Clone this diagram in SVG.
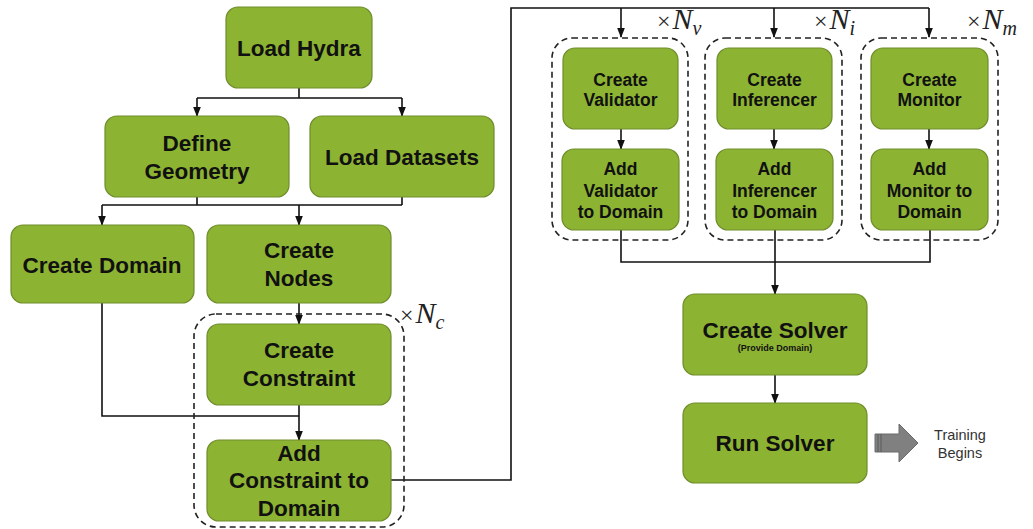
<svg xmlns="http://www.w3.org/2000/svg" width="1033" height="529" viewBox="0 0 1033 529">
<style>
.box{fill:#8db333;stroke:#6e8d2b;stroke-width:1.2}
.t{font-family:"Liberation Sans",Arial,sans-serif;font-weight:bold;fill:#111;text-anchor:middle}
.b{font-size:22.5px}
.s{font-size:17.5px}
.grp{fill:none;stroke:#222;stroke-width:1.6;stroke-dasharray:6 4}
.c{fill:none;stroke:#111;stroke-width:1.6}
.m{font-family:"Liberation Serif","Times New Roman",serif;fill:#222;font-size:24px}
.n{font-style:italic;font-size:30px}
.sub{font-style:italic;font-size:20px}
</style>
<defs>
<marker id="ah" markerWidth="10" markerHeight="10" refX="9" refY="5" orient="auto" markerUnits="userSpaceOnUse">
<path d="M0,1.2 L10,5 L0,8.8 Z" fill="#111"/>
</marker>
</defs>
<rect width="1033" height="529" fill="#fff"/>

<g id="connectors">
<path class="c" d="M299,88 V98 M197,98 H402"/>
<path class="c" d="M197,98 V116" marker-end="url(#ah)"/>
<path class="c" d="M402,98 V116" marker-end="url(#ah)"/>
<path class="c" d="M197,197 V205 M402,197 V205 M102,205 H402"/>
<path class="c" d="M102,205 V225" marker-end="url(#ah)"/>
<path class="c" d="M299,205 V225" marker-end="url(#ah)"/>
<path class="c" d="M299,303 V324" marker-end="url(#ah)"/>
<path class="c" d="M102,303 V416 H299"/>
<path class="c" d="M299,405 V440" marker-end="url(#ah)"/>
<path class="c" d="M391,480 H511 V8 H929"/>
<path class="c" d="M621,8 V37" marker-end="url(#ah)"/>
<path class="c" d="M774,8 V37" marker-end="url(#ah)"/>
<path class="c" d="M929,8 V37" marker-end="url(#ah)"/>
<path class="c" d="M621,129 V149" marker-end="url(#ah)"/>
<path class="c" d="M774,129 V149" marker-end="url(#ah)"/>
<path class="c" d="M929,129 V149" marker-end="url(#ah)"/>
<path class="c" d="M621,230 V262 H930 V230"/>
<path class="c" d="M775,230 V294" marker-end="url(#ah)"/>
<path class="c" d="M775,375 V403" marker-end="url(#ah)"/>
</g>

<g id="group-constraint">
<rect class="grp" x="194" y="314" width="210" height="213" rx="22"/>
<text class="m" x="400" y="323">×<tspan class="n" dx="2">N</tspan><tspan class="sub" dy="6">c</tspan></text>
</g>
<g id="group-validator">
<rect class="grp" x="552" y="38" width="136" height="202" rx="20"/>
<text class="m" x="657" y="29">×<tspan class="n" dx="2">N</tspan><tspan class="sub" dy="6">v</tspan></text>
</g>
<g id="group-inferencer">
<rect class="grp" x="705" y="38" width="137" height="202" rx="20"/>
<text class="m" x="814" y="29">×<tspan class="n" dx="2">N</tspan><tspan class="sub" dy="6">i</tspan></text>
</g>
<g id="group-monitor">
<rect class="grp" x="861" y="38" width="137" height="202" rx="20"/>
<text class="m" x="967" y="29">×<tspan class="n" dx="2">N</tspan><tspan class="sub" dy="6">m</tspan></text>
</g>

<g id="load-hydra">
<rect class="box" x="226" y="7" width="146" height="81" rx="12"/>
<text class="t b" x="299" y="56">Load Hydra</text>
</g>
<g id="define-geometry">
<rect class="box" x="105" y="116" width="184" height="81" rx="12"/>
<text class="t b" x="197" y="151">Define</text>
<text class="t b" x="197" y="179">Geometry</text>
</g>
<g id="load-datasets">
<rect class="box" x="310" y="116" width="184" height="81" rx="12"/>
<text class="t b" x="402" y="165">Load Datasets</text>
</g>
<g id="create-domain">
<rect class="box" x="11" y="225" width="183" height="78" rx="12"/>
<text class="t b" x="102" y="273">Create Domain</text>
</g>
<g id="create-nodes">
<rect class="box" x="207" y="225" width="184" height="78" rx="12"/>
<text class="t b" x="299" y="258">Create</text>
<text class="t b" x="299" y="286">Nodes</text>
</g>
<g id="create-constraint">
<rect class="box" x="207" y="324" width="184" height="81" rx="12"/>
<text class="t b" x="299" y="358">Create</text>
<text class="t b" x="299" y="386">Constraint</text>
</g>
<g id="add-constraint">
<rect class="box" x="207" y="440" width="184" height="81" rx="12"/>
<text class="t b" x="299" y="461">Add</text>
<text class="t b" x="299" y="488">Constraint to</text>
<text class="t b" x="299" y="516">Domain</text>
</g>

<g id="create-validator">
<rect class="box" x="563" y="48" width="115" height="81" rx="12"/>
<text class="t s" x="620.5" y="86">Create</text>
<text class="t s" x="620.5" y="106">Validator</text>
</g>
<g id="add-validator">
<rect class="box" x="562" y="149" width="117" height="81" rx="12"/>
<text class="t s" x="620.5" y="175">Add</text>
<text class="t s" x="620.5" y="197">Validator</text>
<text class="t s" x="620.5" y="218">to Domain</text>
</g>
<g id="create-inferencer">
<rect class="box" x="717" y="48" width="115" height="81" rx="12"/>
<text class="t s" x="774.5" y="86">Create</text>
<text class="t s" x="774.5" y="106">Inferencer</text>
</g>
<g id="add-inferencer">
<rect class="box" x="716" y="149" width="117" height="81" rx="12"/>
<text class="t s" x="774.5" y="175">Add</text>
<text class="t s" x="774.5" y="197">Inferencer</text>
<text class="t s" x="774.5" y="218">to Domain</text>
</g>
<g id="create-monitor">
<rect class="box" x="871" y="48" width="117" height="81" rx="12"/>
<text class="t s" x="929.5" y="86">Create</text>
<text class="t s" x="929.5" y="106">Monitor</text>
</g>
<g id="add-monitor">
<rect class="box" x="871" y="149" width="117" height="81" rx="12"/>
<text class="t s" x="929.5" y="175">Add</text>
<text class="t s" x="929.5" y="197">Monitor to</text>
<text class="t s" x="929.5" y="218">Domain</text>
</g>

<g id="create-solver">
<rect class="box" x="683" y="294" width="184" height="81" rx="12"/>
<text class="t b" x="775" y="338">Create Solver</text>
<text class="t" x="775" y="351" font-size="9">(Provide Domain)</text>
</g>
<g id="run-solver">
<rect class="box" x="683" y="403" width="184" height="80" rx="12"/>
<text class="t b" x="775" y="451">Run Solver</text>
</g>

<g id="training-begins">
<path d="M875,434 H899 V424 L918,443 L899,462 V452 H875 Z" fill="#808080" stroke="#6a6a6a" stroke-width="1"/>
<path d="M878,434 V452 M881,434 V452" stroke="#5a5a5a" stroke-width="1"/>
<text x="960" y="440" font-family="'Liberation Sans',Arial,sans-serif" font-size="14.5" fill="#333" text-anchor="middle">Training</text>
<text x="960" y="458" font-family="'Liberation Sans',Arial,sans-serif" font-size="14.5" fill="#333" text-anchor="middle">Begins</text>
</g>
</svg>
